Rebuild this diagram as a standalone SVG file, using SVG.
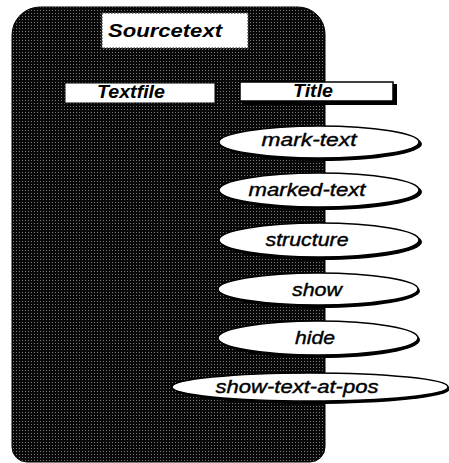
<svg xmlns="http://www.w3.org/2000/svg" width="449" height="463" viewBox="0 0 449 463">
  <defs>
    <pattern id="stipple" width="3" height="3" patternUnits="userSpaceOnUse">
      <rect width="3" height="3" fill="#080808"/>
      <rect x="1" y="1" width="1" height="1" fill="#7a7a7a"/>
    </pattern>
  </defs>
  <style>
    .lbl { font-family: "Liberation Sans", Arial, sans-serif; font-style: italic; fill: #000; text-anchor: middle; }
    .el { font-size: 19px; stroke: #000; stroke-width: 0.4; }
    .bx { font-size: 19px; font-weight: bold; }
    .shadow { fill: #000; }
    .oval { fill: #fff; stroke: #000; stroke-width: 1.5; }
  </style>
  <rect width="449" height="463" fill="#fff"/>
  <g id="Sourcetext-frame">
    <path d="M 40 7 H 298 A 27 27 0 0 1 325 34 V 447 A 15 15 0 0 1 310 462 H 27 A 15 15 0 0 1 12 447 V 35 A 28 28 0 0 1 40 7 Z" fill="url(#stipple)" stroke="#000" stroke-width="1"/>
  </g>
  <g id="Sourcetext">
    <rect x="102" y="13" width="146" height="35" fill="#fff" stroke="#555" stroke-width="1.5" stroke-dasharray="1.5 1.5"/>
    <text class="lbl bx" x="165" y="37" font-size="20" textLength="114" lengthAdjust="spacingAndGlyphs">Sourcetext</text>
  </g>
  <g id="Textfile">
    <rect x="65" y="83" width="150" height="20" fill="#fff" stroke="#000" stroke-width="1"/>
    <text class="lbl bx" x="131" y="98" textLength="68" lengthAdjust="spacingAndGlyphs">Textfile</text>
  </g>
  <g id="Title">
    <rect x="242" y="84" width="155" height="21" fill="#000"/>
    <rect x="240" y="82" width="153" height="19" fill="#fff" stroke="#000" stroke-width="1.5"/>
    <text class="lbl bx" x="313" y="97" textLength="40" lengthAdjust="spacingAndGlyphs">Title</text>
  </g>
  <g id="mark-text">
    <ellipse class="shadow" cx="321" cy="144" rx="101" ry="17"/>
    <ellipse class="oval" cx="319" cy="142" rx="100" ry="16"/>
    <text class="lbl el" x="309" y="146" textLength="95" lengthAdjust="spacingAndGlyphs">mark-text</text>
  </g>
  <g id="marked-text">
    <ellipse class="shadow" cx="321" cy="192" rx="101" ry="18"/>
    <ellipse class="oval" cx="319" cy="190" rx="100" ry="17"/>
    <text class="lbl el" x="307" y="196" textLength="117" lengthAdjust="spacingAndGlyphs">marked-text</text>
  </g>
  <g id="structure">
    <ellipse class="shadow" cx="321" cy="242" rx="101" ry="18"/>
    <ellipse class="oval" cx="319" cy="240" rx="100" ry="17"/>
    <text class="lbl el" x="307" y="246" textLength="83" lengthAdjust="spacingAndGlyphs">structure</text>
  </g>
  <g id="show">
    <ellipse class="shadow" cx="320" cy="291" rx="100" ry="17"/>
    <ellipse class="oval" cx="318" cy="289" rx="100" ry="16"/>
    <text class="lbl el" x="317" y="296" textLength="50" lengthAdjust="spacingAndGlyphs">show</text>
  </g>
  <g id="hide">
    <ellipse class="shadow" cx="320" cy="340" rx="100" ry="18"/>
    <ellipse class="oval" cx="318" cy="338" rx="100" ry="17"/>
    <text class="lbl el" x="315" y="344" textLength="40" lengthAdjust="spacingAndGlyphs">hide</text>
  </g>
  <g id="show-text-at-pos">
    <ellipse class="shadow" cx="312" cy="389" rx="138" ry="15"/>
    <ellipse class="oval" cx="310" cy="387" rx="138" ry="14"/>
    <text class="lbl el" x="297" y="393" textLength="163" lengthAdjust="spacingAndGlyphs">show-text-at-pos</text>
  </g>
  <g id="connectors"/>
</svg>
